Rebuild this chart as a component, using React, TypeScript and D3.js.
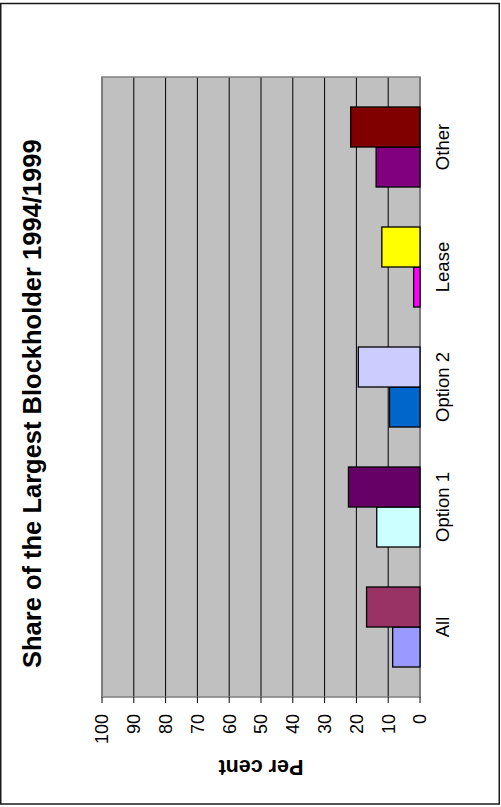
import React from "react";
import * as d3 from "d3";

// Share of the largest blockholder, per cent, by group
const categories = ["All", "Option 1", "Option 2", "Lease", "Other"];
const seriesKeys = ["1994", "1999"];
const values1994 = [8.6, 13.6, 9.6, 2.0, 13.8];
const values1999 = [16.8, 22.5, 19.4, 12.0, 21.8];
const colors1994 = ["#9999FF", "#CCFFFF", "#0066CC", "#FF00FF", "#800080"];
const colors1999 = ["#993366", "#660066", "#CCCCFF", "#FFFF00", "#800000"];
const valueTicks = [0, 10, 20, 30, 40, 50, 60, 70, 80, 90, 100];
const title = "Share of the Largest Blockholder 1994/1999";
const axisTitle = "Per cent";

const W = 501;
const H = 807;
const FONT = "Arial, 'Liberation Sans', Helvetica, sans-serif";

export default function App() {
  // The chart is laid out on its side: values run right-to-left, categories bottom-to-top.
  const plot = { left: 102, right: 420, top: 77, bottom: 697 };
  const frame = { x: 0.75, y: 3.5, w: 498.5, h: 800.5 };

  const x = d3.scaleLinear().domain([0, 100]).range([plot.right, plot.left]);
  const y = d3
    .scaleBand<string>()
    .domain(categories)
    .range([plot.bottom, plot.top])
    .paddingInner(1 / 3)
    .paddingOuter(0.25);
  const inner = d3
    .scaleBand<string>()
    .domain(seriesKeys)
    .range([y.bandwidth(), 0]);

  const bars = categories.flatMap((c, i) => [
    { cat: c, key: "1994", value: values1994[i], color: colors1994[i] },
    { cat: c, key: "1999", value: values1999[i], color: colors1999[i] },
  ]);

  return (
    <svg
      width={W}
      height={H}
      viewBox={`0 0 ${W} ${H}`}
      style={{ position: "absolute", left: 0, top: 0, display: "block" }}
      fontFamily={FONT}
    >
      <rect x={0} y={0} width={W} height={H} fill="#ffffff" />
      <rect
        x={frame.x}
        y={frame.y}
        width={frame.w}
        height={frame.h}
        fill="none"
        stroke="#1a1a1a"
        strokeWidth={1.5}
      />

      {/* plot area */}
      <rect
        x={plot.left}
        y={plot.top}
        width={plot.right - plot.left}
        height={plot.bottom - plot.top}
        fill="#C0C0C0"
      />
      {valueTicks.map((t) => (
        <line
          key={`g${t}`}
          x1={x(t)}
          x2={x(t)}
          y1={plot.top}
          y2={plot.bottom}
          stroke="#000000"
          strokeWidth={1}
        />
      ))}
      <rect
        x={plot.left}
        y={plot.top}
        width={plot.right - plot.left}
        height={plot.bottom - plot.top}
        fill="none"
        stroke="#808080"
        strokeWidth={1.5}
      />

      {/* bars */}
      {bars.map((b) => {
        const y0 = (y(b.cat) ?? 0) + (inner(b.key) ?? 0);
        return (
          <rect
            key={`${b.cat}-${b.key}`}
            x={x(b.value)}
            y={y0}
            width={x(0) - x(b.value)}
            height={inner.bandwidth()}
            fill={b.color}
            stroke="#000000"
            strokeWidth={1.3}
          />
        );
      })}

      {/* value axis ticks and labels */}
      {valueTicks.map((t) => (
        <g key={`t${t}`}>
          <line
            x1={x(t)}
            x2={x(t)}
            y1={plot.bottom}
            y2={plot.bottom + 6}
            stroke="#000000"
            strokeWidth={1}
          />
          <text
            transform={`translate(${x(t)},${plot.bottom + 17}) rotate(-90)`}
            textAnchor="end"
            dy="0.35em"
            fontSize={18}
            fill="#000000"
          >
            {t}
          </text>
        </g>
      ))}

      {/* category labels */}
      {categories.map((c) => (
        <text
          key={`c${c}`}
          transform={`translate(449,${(y(c) ?? 0) + y.bandwidth() / 2}) rotate(-90)`}
          textAnchor="middle"
          fontSize={18.5}
          fill="#000000"
        >
          {c}
        </text>
      ))}

      {/* titles */}
      <text
        transform={`translate(40.5,${frame.y + frame.h / 2}) rotate(-90)`}
        textAnchor="middle"
        fontSize={25.5}
        fontWeight="bold"
        fill="#000000"
      >
        {title}
      </text>
      <text
        transform={`translate(${(plot.left + plot.right) / 2},760) rotate(180)`}
        textAnchor="middle"
        fontSize={21.5}
        fontWeight="bold"
        fill="#000000"
      >
        {axisTitle}
      </text>
    </svg>
  );
}
